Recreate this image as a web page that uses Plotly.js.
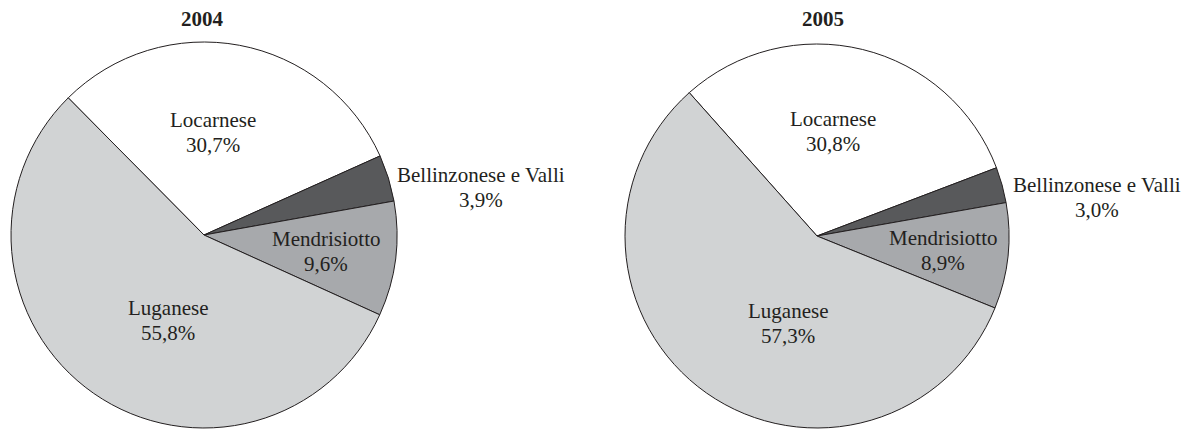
<!DOCTYPE html>
<html>
<head>
<meta charset="utf-8">
<script src="https://cdn.plot.ly/plotly-3.0.1.min.js"></script>
<style>
html,body{margin:0;padding:0;background:#fff;}
#chart{width:1192px;height:430px;}
</style>
</head>
<body>
<div id="chart"></div>
<script>
// ---- data ----
var categories = ["Locarnese", "Bellinzonese e Valli", "Mendrisiotto", "Luganese"];
var values2004 = [30.7, 3.9, 9.6, 55.8];
var values2005 = [30.8, 3.0, 8.9, 57.3];
var years = ["2004", "2005"];

// ---- styling / layout config ----
var W = 1192, H = 430;
var sliceColors = ["#ffffff", "#58595b", "#a7a9ac", "#d1d3d4"];
var textColor = "#231f20";
var fontFamily = "Liberation Serif";

// pie placement (pixels): [left, right, top, bottom]
var pieBoxes = [[11, 397, 42, 428], [625, 1009, 44, 428]];
var rotations = [-44.7, -41.7];
var titlePos = [[202.5, 19], [823, 19]];
// label line centres (pixels): [x, yName, yPercent]
var labelPos = [
  [[213, 120, 145], [481, 175, 200], [326, 239, 264], [168, 308, 333]],
  [[833, 119, 144], [1097, 185, 210], [943, 238, 263], [788, 311, 336]]
];

function fmt(v) { return v.toFixed(1).replace('.', ',') + '%'; }
function px(x) { return x / W; }
function py(y) { return 1 - y / H; }

var allValues = [values2004, values2005];
var traces = [];
var annotations = [];

allValues.forEach(function (vals, i) {
  var b = pieBoxes[i];
  traces.push({
    type: 'pie',
    labels: categories,
    values: vals,
    sort: false,
    direction: 'clockwise',
    rotation: rotations[i],
    textinfo: 'none',
    hoverinfo: 'label+percent',
    marker: { colors: sliceColors, line: { color: '#231f20', width: 1 } },
    domain: { x: [px(b[0]), px(b[1])], y: [py(b[3]), py(b[2])] },
    showlegend: false
  });
  annotations.push({
    text: '<b>' + years[i] + '</b>',
    xref: 'paper', yref: 'paper',
    x: px(titlePos[i][0]), y: py(titlePos[i][1]),
    xanchor: 'center', yanchor: 'middle', showarrow: false,
    font: { family: fontFamily, size: 21, color: textColor }
  });
  categories.forEach(function (cat, j) {
    var p = labelPos[i][j];
    annotations.push({
      text: cat, xref: 'paper', yref: 'paper',
      x: px(p[0]), y: py(p[1]), xanchor: 'center', yanchor: 'middle',
      showarrow: false, font: { family: fontFamily, size: 21, color: textColor }
    });
    annotations.push({
      text: fmt(vals[j]), xref: 'paper', yref: 'paper',
      x: px(p[0]), y: py(p[2]), xanchor: 'center', yanchor: 'middle',
      showarrow: false, font: { family: fontFamily, size: 21, color: textColor }
    });
  });
});

var layout = {
  width: W, height: H,
  margin: { l: 0, r: 0, t: 0, b: 0 },
  paper_bgcolor: '#ffffff',
  plot_bgcolor: '#ffffff',
  annotations: annotations,
  showlegend: false
};

Plotly.newPlot('chart', traces, layout, { displayModeBar: false, staticPlot: true });
</script>
</body>
</html>
